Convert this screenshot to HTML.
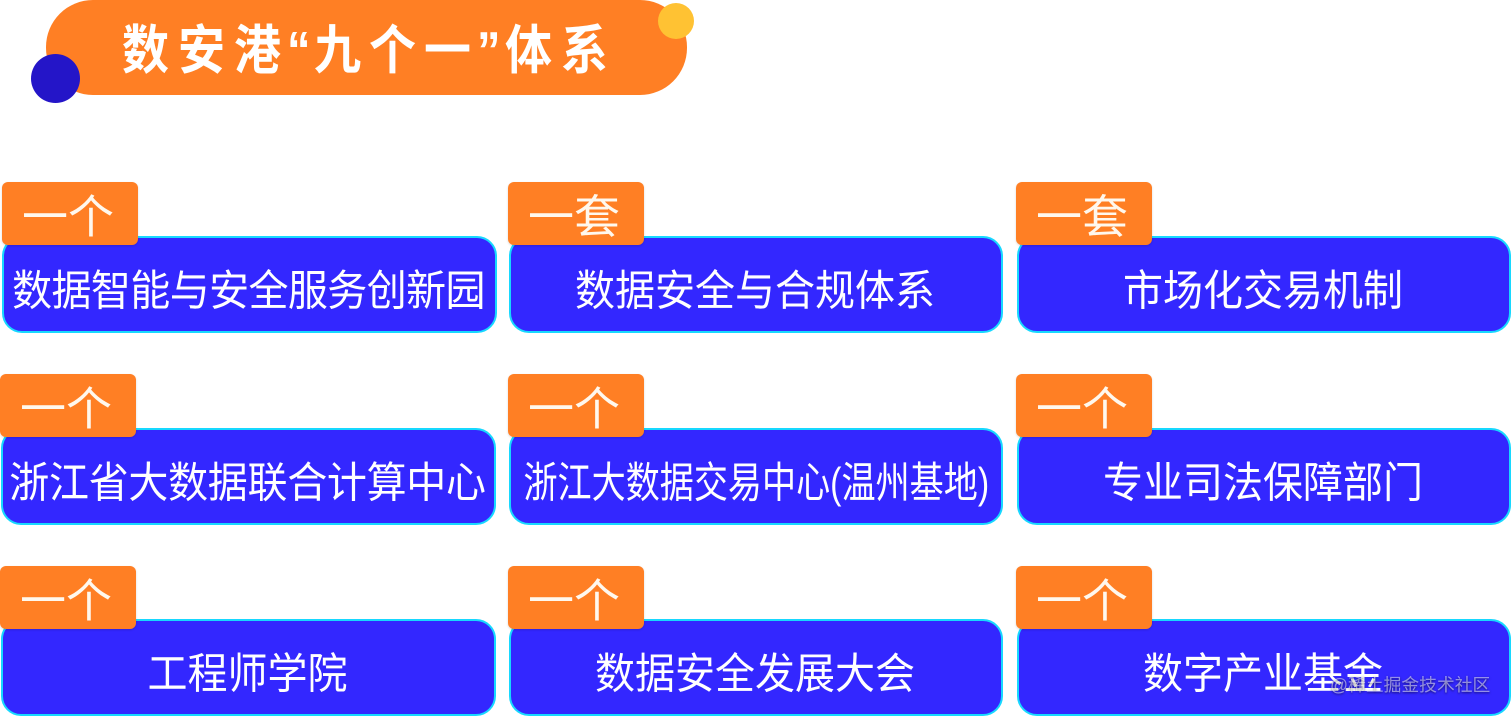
<!DOCTYPE html>
<html lang="zh">
<head>
<meta charset="utf-8">
<title>数安港“九个一”体系</title>
<style>
html,body{margin:0;padding:0;background:#fff}
#p{position:relative;width:1512px;height:717px;overflow:hidden;background:#fff;font-family:"Liberation Sans","Noto Sans CJK SC",sans-serif}
#p div{position:absolute;box-sizing:border-box}
.b{background:#3327ff;border:2px solid #17d8ff;border-radius:20px;color:#fff;font-size:40px;line-height:107px;height:97px;display:flex;justify-content:center;white-space:nowrap}
.b span{display:block;flex:none;transform:translateX(-1px) scaleY(1.07)}
.t{background:#ff7f24;border-radius:6px;color:#fff8ee;font-size:46px;line-height:70px;height:63px;width:136px;text-align:center;white-space:nowrap;box-shadow:0 1px 2px rgba(0,0,0,.15);padding-right:4px}
.h{top:0;height:95px;line-height:100px;color:#fff;font-size:47px;font-weight:700;letter-spacing:9px;white-space:nowrap;transform:scaleY(1.13);transform-origin:50% 50%}
</style>
</head>
<body>
<div id="p">
<div style="left:46px;top:0;width:641px;height:95px;background:#ff7f24;border-radius:47px"></div>
<div style="left:31px;top:54px;width:49px;height:49px;border-radius:50%;background:#2415c8"></div>
<div style="left:658px;top:3px;width:36px;height:36px;border-radius:50%;background:#ffc233"></div>
<div class="h" style="left:122px">数安港</div>
<div class="h" style="left:287px">“</div>
<div class="h" style="left:314px;letter-spacing:8px">九个一</div>
<div class="h" style="left:477px">”</div>
<div class="h" style="left:505px;letter-spacing:9px">体系</div>

<div class="b" style="left:2px;top:236px;width:495px"><span style="letter-spacing:-.6px">数据智能与安全服务创新园</span></div>
<div class="t" style="left:2px;top:182px">一个</div>
<div class="b" style="left:509px;top:236px;width:494px"><span>数据安全与合规体系</span></div>
<div class="t" style="left:508px;top:182px">一套</div>
<div class="b" style="left:1017px;top:236px;width:494px"><span>市场化交易机制</span></div>
<div class="t" style="left:1016px;top:182px">一套</div>

<div class="b" style="left:1px;top:428px;width:495px"><span style="letter-spacing:-.3px">浙江省大数据联合计算中心</span></div>
<div class="t" style="left:0;top:374px">一个</div>
<div class="b" style="left:509px;top:428px;width:494px"><span style="transform:translateX(0) scale(.852,1.07)">浙江大数据交易中心(温州基地)</span></div>
<div class="t" style="left:508px;top:374px">一个</div>
<div class="b" style="left:1017px;top:428px;width:494px"><span>专业司法保障部门</span></div>
<div class="t" style="left:1016px;top:374px">一个</div>

<div class="b" style="left:1px;top:619px;width:495px"><span>工程师学院</span></div>
<div class="t" style="left:0;top:566px">一个</div>
<div class="b" style="left:509px;top:619px;width:494px"><span>数据安全发展大会</span></div>
<div class="t" style="left:508px;top:566px">一个</div>
<div class="b" style="left:1017px;top:619px;width:494px"><span>数字产业基金</span></div>
<div class="t" style="left:1016px;top:566px">一个</div>

<div style="left:1330px;top:672px;width:165px;height:26px;line-height:26px;font-size:17.8px;color:rgba(255,255,255,.5);text-shadow:0 1px 2px rgba(0,0,0,.55);white-space:nowrap">@稀土掘金技术社区</div>
</div>
</body>
</html>
